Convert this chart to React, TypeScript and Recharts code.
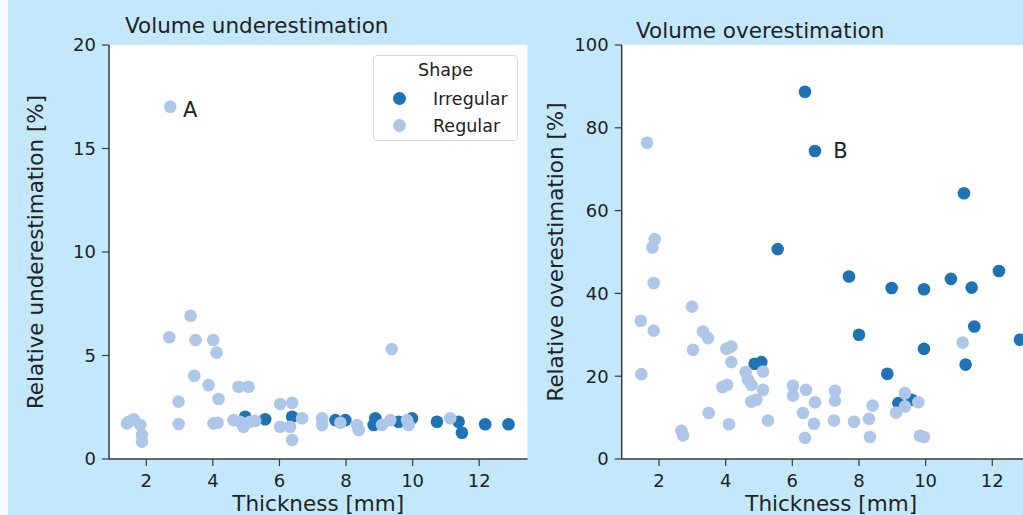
import React from 'react';
import { ScatterChart, Scatter, XAxis, YAxis, CartesianGrid, ReferenceDot, Legend, Label } from 'recharts';

// thickness ticks shared by both panels
const xTicks = [2, 4, 6, 8, 10, 12];
const underTicks = [0, 5, 10, 15, 20];
const overTicks = [0, 20, 40, 60, 80, 100];

// Volume underestimation [%]
const underIrregularX = [4.97, 5.57, 6.38, 7.68, 7.98, 8.88, 8.83, 9.58, 9.98, 10.73, 11.38, 11.48, 12.18, 12.88];
const underIrregularY = [2.04, 1.92, 2.04, 1.88, 1.88, 1.97, 1.64, 1.8, 1.97, 1.8, 1.8, 1.27, 1.68, 1.68];
const underRegularX = [
  2.72, 2.69, 3.33, 3.48, 4.01, 4.11, 9.37, 3.44, 3.87, 4.77, 5.07, 4.17, 2.97, 6.02, 6.38,
  1.42, 1.47, 1.62, 1.82, 1.87, 1.87, 2.97, 4.02, 4.14, 4.62, 4.82, 4.92, 5.12, 5.27, 6.02,
  6.32, 6.38, 6.68, 7.28, 7.28, 7.83, 8.33, 8.38, 9.08, 9.33, 9.83, 9.88, 11.13,
];
const underRegularY = [
  17.02, 5.88, 6.92, 5.75, 5.75, 5.14, 5.31, 4.02, 3.57, 3.49, 3.49, 2.9, 2.77, 2.66, 2.72,
  1.72, 1.8, 1.92, 1.64, 1.16, 0.84, 1.69, 1.72, 1.75, 1.88, 1.8, 1.56, 1.8, 1.85, 1.56,
  1.56, 0.92, 1.97, 1.97, 1.64, 1.75, 1.64, 1.4, 1.64, 1.88, 1.88, 1.64, 1.97,
];

// Volume overestimation [%]
const overIrregularX = [
  6.38, 6.68, 11.15, 5.56, 7.7, 8.0, 8.98, 8.85, 9.95, 9.95, 10.76, 11.38, 11.46, 11.2, 12.2,
  12.83, 4.87, 5.07, 9.18, 9.58,
];
const overIrregularY = [
  88.7, 74.4, 64.2, 50.7, 44.1, 30.0, 41.3, 20.6, 41.0, 26.6, 43.5, 41.4, 32.0, 22.8, 45.4,
  28.8, 23.0, 23.4, 13.5, 14.3,
];
const overRegularX = [
  1.64, 1.87, 1.8, 1.84, 1.45, 1.84, 1.47, 2.99, 3.02, 3.32, 3.47, 3.49, 2.67, 2.72, 4.02,
  4.17, 4.17, 3.9, 4.04, 4.1, 4.6, 4.67, 4.77, 4.77, 4.92, 5.12, 5.12, 5.27, 6.02, 6.02,
  6.41, 6.32, 6.38, 6.68, 6.65, 7.28, 7.28, 7.25, 7.85, 8.3, 8.41, 8.33, 11.11, 9.38, 9.38,
  9.11, 9.78, 9.83, 9.95,
];
const overRegularY = [
  76.4, 53.1, 51.1, 42.5, 33.4, 31.0, 20.5, 36.8, 26.4, 30.8, 29.2, 11.1, 6.8, 5.7, 26.6,
  27.2, 23.4, 17.4, 17.9, 8.4, 21.0, 19.1, 17.9, 13.9, 14.3, 21.1, 16.7, 9.3, 17.7, 15.3,
  16.7, 11.1, 5.1, 13.7, 8.5, 16.5, 14.1, 9.3, 9.0, 9.7, 12.9, 5.3, 28.1, 15.9, 12.7,
  11.2, 13.7, 5.6, 5.3,
];

// text annotations (anchor of the text, data units)
const underNote = { text: 'A', x: 3.1, y: 16.86 };
const overNote = { text: 'B', x: 7.23, y: 74.4 };

const X_DOMAIN: [number, number] = [0.88, 13.45];
const H = 515;
const DARK = '#1f72b3';
const LIGHT = '#aec7e8';
const INK = '#222';
const SPINE = '#3a3a3a';
const FONT = '"DejaVu Sans", sans-serif';

const zip = (xs: number[], ys: number[]) => xs.map((x, i) => ({ x, y: ys[i] }));

const Dot = (props: any) => <circle cx={props.cx} cy={props.cy} r={6.3} fill={props.fill} />;

const ShapeLegend = ({ payload }: any) => (
  <div
    style={{
      position: 'relative',
      width: 145,
      height: 86,
      boxSizing: 'border-box',
      background: '#fff',
      border: '1px solid #d9d9d9',
      borderRadius: 4,
      fontFamily: FONT,
      color: INK,
    }}
  >
    <div style={{ position: 'absolute', top: 6, left: 0, width: '100%', textAlign: 'center', fontSize: 17.5, lineHeight: '17.5px' }}>
      Shape
    </div>
    {(payload || []).map((entry: any, i: number) => (
      <div key={i} style={{ position: 'absolute', left: 0, top: 33 + i * 27, height: 20, display: 'flex', alignItems: 'center' }}>
        <span style={{ position: 'absolute', left: 19, top: 3, width: 13, height: 13, borderRadius: '50%', background: entry.color }} />
        <span style={{ position: 'absolute', left: 59, top: 0, fontSize: 17.5, lineHeight: '20px', whiteSpace: 'nowrap' }}>
          {entry.value}
        </span>
      </div>
    ))}
  </div>
);

interface PanelProps {
  title: string;
  yLabel: string;
  irregular: { x: number; y: number }[];
  regular: { x: number; y: number }[];
  yTicks: number[];
  left: number;
  width: number;
  yAxisWidth: number;
  marginRight: number;
  titleLeft: number;
  titleTop: number;
  labelDx: number;
  note: { text: string; x: number; y: number };
  legend?: boolean;
}

const Panel: React.FC<PanelProps> = (p) => {
  const yMax = p.yTicks[p.yTicks.length - 1];
  return (
    <div style={{ position: 'absolute', left: p.left, top: 0, width: p.width, height: H }}>
      <ScatterChart width={p.width} height={H} margin={{ top: 45, right: p.marginRight, bottom: 0, left: 0 }}>
        <CartesianGrid horizontal={false} vertical={false} fill="#fff" fillOpacity={1} />
        <XAxis
          type="number"
          dataKey="x"
          domain={X_DOMAIN}
          ticks={xTicks}
          allowDataOverflow
          height={56}
          tickSize={7}
          tickMargin={8}
          axisLine={{ stroke: SPINE, strokeWidth: 1.5 }}
          tickLine={{ stroke: SPINE, strokeWidth: 1.2 }}
          tick={{ fill: INK, fontSize: 18 }}
        >
          <Label value="Thickness [mm]" position="center" dy={16} fontSize={21.5} fill={INK} />
        </XAxis>
        <YAxis
          type="number"
          dataKey="y"
          domain={[0, yMax]}
          ticks={p.yTicks}
          allowDataOverflow
          width={p.yAxisWidth}
          tickSize={7}
          tickMargin={6}
          axisLine={{ stroke: SPINE, strokeWidth: 1.5 }}
          tickLine={{ stroke: SPINE, strokeWidth: 1.2 }}
          tick={{ fill: INK, fontSize: 18 }}
        >
          <Label value={p.yLabel} angle={-90} position="center" dx={p.labelDx} fontSize={21.5} fill={INK} />
        </YAxis>
        <XAxis xAxisId="top" orientation="top" type="number" domain={[0, 1]} height={0} tick={false} tickLine={false} axisLine={{ stroke: SPINE, strokeWidth: 1.5 }} />
        <YAxis yAxisId="right" orientation="right" type="number" domain={[0, 1]} width={0} tick={false} tickLine={false} axisLine={{ stroke: SPINE, strokeWidth: 1.5 }} />
        {p.legend && (
          <Legend
            layout="vertical"
            verticalAlign="middle"
            align="center"
            content={<ShapeLegend />}
            wrapperStyle={{ left: 373, top: 55, width: 145, height: 86 }}
          />
        )}
        <Scatter name="Irregular" data={p.irregular} fill={DARK} shape={<Dot />} isAnimationActive={false} />
        <Scatter name="Regular" data={p.regular} fill={LIGHT} shape={<Dot />} isAnimationActive={false} />
        <ReferenceDot
          x={p.note.x}
          y={p.note.y}
          r={0}
          fill="none"
          stroke="none"
          label={{ value: p.note.text, position: 'right', offset: 0, fontSize: 21, fill: INK }}
        />
      </ScatterChart>
      <div
        style={{
          position: 'absolute',
          left: p.titleLeft,
          top: p.titleTop,
          fontSize: 21.5,
          lineHeight: '21.5px',
          color: INK,
          whiteSpace: 'nowrap',
        }}
      >
        {p.title}
      </div>
    </div>
  );
};

const App: React.FC = () => (
  <div
    style={{
      position: 'absolute',
      left: 0,
      top: 0,
      width: 1023,
      height: H,
      overflow: 'hidden',
      fontFamily: FONT,
      background: 'linear-gradient(to right, #f7fbfd 0px, #f7fbfd 8px, #c3e8fc 8px)',
    }}
  >
    <Panel
      title="Volume underestimation"
      yLabel="Relative underestimation [%]"
      irregular={zip(underIrregularX, underIrregularY)}
      regular={zip(underRegularX, underRegularY)}
      yTicks={underTicks}
      left={0}
      width={540}
      yAxisWidth={109}
      marginRight={12.5}
      titleLeft={125}
      titleTop={15}
      labelDx={-19.5}
      note={underNote}
      legend
    />
    <Panel
      title="Volume overestimation"
      yLabel="Relative overestimation [%]"
      irregular={zip(overIrregularX, overIrregularY)}
      regular={zip(overRegularX, overRegularY)}
      yTicks={overTicks}
      left={530}
      width={530}
      yAxisWidth={91.7}
      marginRight={19.4}
      titleLeft={106}
      titleTop={20}
      labelDx={-20.9}
      note={overNote}
    />
  </div>
);

export default App;
